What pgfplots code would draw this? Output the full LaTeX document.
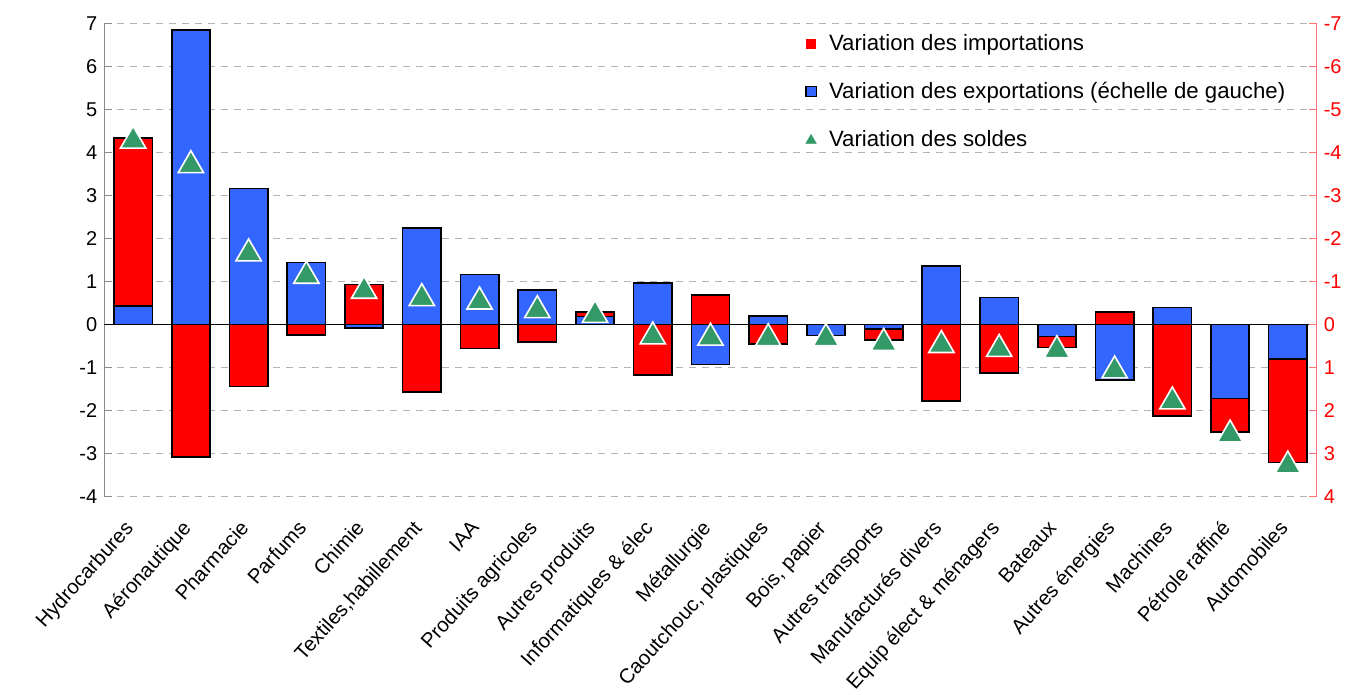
\documentclass[border=0pt]{standalone}
\usepackage{fontspec}
\setmainfont{Liberation Sans}
\usepackage{pgfplots}
\usepackage{pgfplotstable}
\pgfplotsset{compat=1.18}
\definecolor{cred}{HTML}{FF0000}
\definecolor{cblue}{HTML}{3366FF}
\definecolor{cgreen}{HTML}{339966}
\definecolor{cgrid}{HTML}{B3B3B3}
\definecolor{caxis}{HTML}{8C8C8C}
\definecolor{craxis}{HTML}{FF7070}

% exp = variation des exportations, imp = visible end of import bar (stacked), sol = solde
\pgfplotstableread{
x exp imp sol
0 0.43 4.34 4.34
1 6.85 -3.08 3.77
2 3.16 -1.44 1.72
3 1.44 -0.24 1.20
4 -0.08 0.93 0.85
5 2.25 -1.57 0.68
6 1.16 -0.56 0.60
7 0.80 -0.40 0.40
8 0.19 0.29 0.29
9 0.96 -1.17 -0.21
10 -0.93 0.69 -0.24
11 0.20 -0.45 -0.25
12 -0.25 0 -0.25
13 -0.11 -0.36 -0.36
14 1.36 -1.77 -0.41
15 0.63 -1.13 -0.50
16 -0.28 -0.53 -0.53
17 -1.29 0.29 -1.00
18 0.40 -2.12 -1.72
19 -1.72 -2.49 -2.49
20 -0.80 -3.21 -3.21
}\data

\begin{document}
\begin{tikzpicture}
\begin{axis}[
  at={(0,0)}, anchor=south west,
  scale only axis, width=606.2pt, height=236.7pt,
  xmin=-0.5, xmax=20.5, ymin=-4, ymax=7,
  ytick={-4,...,7},
  xtick={0,...,20},
  xticklabels={Hydrocarbures, Aéronautique, Pharmacie, Parfums, Chimie, {Textiles,habillement}, IAA, Produits agricoles, Autres produits, Informatiques \& élec, Métallurgie, {Caoutchouc, plastiques}, {Bois, papier}, Autres transports, Manufacturés divers, Equip élect \& ménagers, Bateaux, Autres énergies, Machines, Pétrole raffiné, Automobiles},
  x tick label style={xshift=-5pt, yshift=-11pt, rotate=48, anchor=north east, inner sep=0pt, font=\fontsize{10.2}{12}\selectfont},
  y tick label style={font=\fontsize{10}{12}\selectfont, black},
  /pgf/number format/assume math mode=true,
  separate axis lines,
  axis y line*=left,
  y axis line style={caxis, line width=0.7pt, -},
  x axis line style={draw=none},
  xtick style={draw=none},
  ytick style={caxis, line width=0.7pt},
  tick align=inside,
  major tick length=4pt,
  ymajorgrids,
  major grid style={cgrid, dash pattern=on 3.5pt off 3pt, line width=0.5pt},
  extra y ticks={0},
  extra y tick labels={},
  extra y tick style={grid=major, major grid style={black, solid, line width=0.5pt}, tick style={draw=none}},
  legend style={draw=none, fill=none, at={(0.578,0.986)}, anchor=north west,
    legend cell align=left, row sep=10.3pt, column sep=4pt, inner sep=0pt,
    font=\fontsize{11.1}{13.3}\selectfont},
]
\addlegendimage{legend image code/.code={\fill[cred] (0pt,-2.3pt) rectangle (4.6pt,2.3pt);}}
\addlegendentry{Variation des importations}
\addlegendimage{legend image code/.code={\filldraw[fill=cblue, draw=black, line width=0.6pt] (-0.2pt,-2.6pt) rectangle (5pt,2.6pt);}}
\addlegendentry{Variation des exportations (échelle de gauche)}
\addlegendimage{legend image code/.code={\fill[cgreen] (2.3pt,2.4pt) -- (-0.2pt,-1.9pt) -- (4.8pt,-1.9pt) -- cycle;}}
\addlegendentry{Variation des soldes}

\addplot[ybar, bar width=0.663, bar shift=0pt, fill=cred, draw=black, line width=0.8pt, forget plot]
  table[x=x, y=imp] {\data};
\addplot[ybar, bar width=0.663, bar shift=0pt, fill=cblue, draw=black, line width=0.8pt, forget plot]
  table[x=x, y=exp] {\data};
\addplot[only marks, mark=triangle*, mark size=7.3pt,
  mark options={fill=cgreen, draw=white, line width=0.8pt, yshift=-1.5pt}, forget plot]
  table[x=x, y=sol] {\data};
\end{axis}

\begin{axis}[
  at={(0,0)}, anchor=south west,
  scale only axis, width=606.2pt, height=236.7pt,
  xmin=-0.5, xmax=20.5, ymin=-7, ymax=4,
  y dir=reverse,
  hide x axis,
  axis y line*=right,
  y axis line style={craxis, line width=0.7pt, -},
  ytick={-7,...,4},
  ytick style={craxis, line width=0.7pt},
  tick align=inside,
  major tick length=4pt,
  y tick label style={font=\fontsize{10}{12}\selectfont, text=cred},
  /pgf/number format/assume math mode=true,
]
\end{axis}
\pgfresetboundingbox
\path[use as bounding box] (-52.15pt,-99.15pt) rectangle (626.35pt,248.35pt);
\end{tikzpicture}
\end{document}
